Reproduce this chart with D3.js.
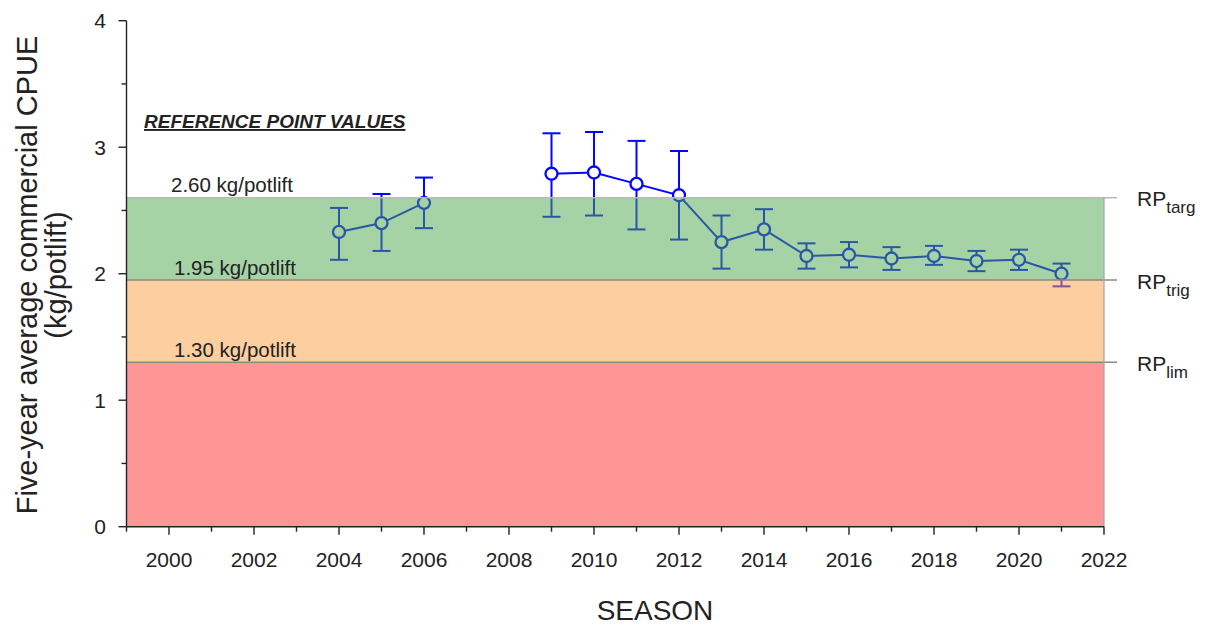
<!DOCTYPE html>
<html>
<head>
<meta charset="utf-8">
<script src="https://cdn.jsdelivr.net/npm/d3@7"></script>
<style>
  html, body { margin: 0; padding: 0; background: #fff; }
  svg { display: block; font-family: "Liberation Sans", Arial, sans-serif; }
</style>
</head>
<body>
<svg id="chart" width="1221" height="628"></svg>
<script>
// Five-year average commercial CPUE by season, with 95% error bars
const seasons = [2004, 2005, 2006, 2009, 2010, 2011, 2012, 2013, 2014, 2015, 2016, 2017, 2018, 2019, 2020, 2021];
const cpue    = [2.33, 2.40, 2.56, 2.79, 2.80, 2.71, 2.62, 2.25, 2.35, 2.14, 2.15, 2.12, 2.14, 2.10, 2.11, 2.00];
const lower   = [2.11, 2.18, 2.36, 2.45, 2.46, 2.35, 2.27, 2.04, 2.19, 2.04, 2.05, 2.03, 2.07, 2.02, 2.03, 1.90];
const upper   = [2.52, 2.63, 2.76, 3.11, 3.12, 3.05, 2.97, 2.46, 2.51, 2.24, 2.25, 2.21, 2.22, 2.18, 2.19, 2.08];

// Reference points (kg/potlift)
const rpKeys   = ["targ", "trig", "lim"];
const rpValues = [2.60, 1.95, 1.30];
const rpText   = ["2.60 kg/potlift", "1.95 kg/potlift", "1.30 kg/potlift"];

// Zones between reference points
const zoneLow   = [1.95, 1.30, 0];
const zoneHigh  = [2.60, 1.95, 1.30];
const zoneFill  = ["rgb(77,167,75)", "rgb(251,159,65)", "rgb(255,45,45)"];

const xTicks = d3.range(2000, 2023, 2);
const xMinor = d3.range(1999, 2023, 1);
const yTicks = [0, 1, 2, 3, 4];
const yMinor = d3.range(0, 4.01, 0.5);

const svg = d3.select("#chart");
const plotL = 126.5, plotR = 1104, plotT = 20.7, plotB = 526.7;

const x = d3.scaleLinear().domain([1999, 2022]).range([plotL, plotR]);
const y = d3.scaleLinear().domain([0, 4]).range([plotB, plotT]);

const blue = "#0505ff";
const pts = seasons.map((s, i) => ({ s, v: cpue[i], lo: lower[i], hi: upper[i] }));

// Series: connecting line, broken where seasons are missing
const segs = [];
pts.forEach((p, i) => {
  if (i === 0 || p.s - pts[i - 1].s > 1) segs.push([]);
  segs[segs.length - 1].push(p);
});
const line = d3.line().x(d => x(d.s)).y(d => y(d.v));
svg.append("g").selectAll("path").data(segs).join("path")
  .attr("d", line).attr("fill", "none").attr("stroke", blue).attr("stroke-width", 2);

// Error bars
const eb = svg.append("g").attr("stroke", blue).attr("stroke-width", 2);
eb.selectAll("line.v").data(pts).join("line").attr("class", "v")
  .attr("x1", d => x(d.s)).attr("x2", d => x(d.s))
  .attr("y1", d => y(d.lo)).attr("y2", d => y(d.hi));
eb.selectAll("line.hc").data(pts).join("line").attr("class", "hc")
  .attr("x1", d => x(d.s) - 9).attr("x2", d => x(d.s) + 9)
  .attr("y1", d => y(d.hi)).attr("y2", d => y(d.hi));
eb.selectAll("line.lc").data(pts).join("line").attr("class", "lc")
  .attr("x1", d => x(d.s) - 9).attr("x2", d => x(d.s) + 9)
  .attr("y1", d => y(d.lo)).attr("y2", d => y(d.lo));

// Markers
svg.append("g").selectAll("circle").data(pts).join("circle")
  .attr("cx", d => x(d.s)).attr("cy", d => y(d.v)).attr("r", 6)
  .attr("fill", "#fff").attr("stroke", blue).attr("stroke-width", 2.3);

// Translucent zones laid over the series
svg.append("g").selectAll("rect").data(zoneLow).join("rect")
  .attr("x", plotL).attr("width", plotR - plotL)
  .attr("y", (d, i) => y(zoneHigh[i]))
  .attr("height", (d, i) => y(zoneLow[i]) - y(zoneHigh[i]))
  .attr("fill", (d, i) => zoneFill[i]).attr("fill-opacity", 0.5);

// Reference point lines, right-hand ticks and frame edge
const rpg = svg.append("g");
rpg.selectAll("line.rp").data(rpValues).join("line").attr("class", "rp")
  .attr("x1", plotL).attr("x2", plotR + 13)
  .attr("y1", d => y(d)).attr("y2", d => y(d))
  .attr("stroke", (d, i) => i === 0 ? "#b9b9b9" : "#8a8a80").attr("stroke-width", 1.5);
rpg.append("line")
  .attr("x1", plotR).attr("x2", plotR)
  .attr("y1", y(rpValues[0])).attr("y2", plotB)
  .attr("stroke", "#a8a8a8").attr("stroke-width", 1.3);

// Reference point value labels
svg.append("text").attr("x", 144).attr("y", 128)
  .attr("font-size", 19).attr("font-weight", "bold").attr("font-style", "italic")
  .attr("text-decoration", "underline").attr("fill", "#222")
  .text("REFERENCE POINT VALUES");
svg.append("g").selectAll("text").data(rpValues).join("text")
  .attr("x", (d, i) => i === 0 ? 171 : 174)
  .attr("y", d => y(d) - 5.5)
  .attr("font-size", 20.5).attr("fill", "#222")
  .text((d, i) => rpText[i]);

// RP labels with subscripts
const rpl = svg.append("g").selectAll("text").data(rpValues).join("text")
  .attr("x", 1137).attr("y", d => y(d) + 8.5)
  .attr("font-size", 21).attr("fill", "#222");
rpl.append("tspan").text("RP");
rpl.append("tspan").attr("font-size", 17).attr("dy", 7).text((d, i) => rpKeys[i]);

// Axes
const axisColor = "#222";
const ax = svg.append("g").attr("stroke", axisColor).attr("stroke-width", 1.4);
ax.append("line").attr("x1", plotL).attr("x2", plotL).attr("y1", plotT).attr("y2", plotB);
ax.append("line").attr("x1", plotL).attr("x2", plotR).attr("y1", plotB).attr("y2", plotB);
ax.selectAll("line.ym").data(yMinor).join("line").attr("class", "ym")
  .attr("x1", d => Number.isInteger(d) ? plotL - 8 : plotL - 5).attr("x2", plotL)
  .attr("y1", d => y(d)).attr("y2", d => y(d));
ax.selectAll("line.xm").data(xMinor).join("line").attr("class", "xm")
  .attr("x1", d => x(d)).attr("x2", d => x(d))
  .attr("y1", plotB).attr("y2", d => d % 2 === 0 ? plotB + 8 : plotB + 5);

svg.append("g").selectAll("text").data(yTicks).join("text")
  .attr("x", 106).attr("y", d => y(d)).attr("dy", "0.36em")
  .attr("text-anchor", "end").attr("font-size", 21).attr("fill", axisColor)
  .text(d => d);
svg.append("g").selectAll("text").data(xTicks).join("text")
  .attr("x", d => x(d)).attr("y", 567)
  .attr("text-anchor", "middle").attr("font-size", 21).attr("fill", axisColor)
  .text(d => d);

// Axis titles
svg.append("text").attr("x", 655).attr("y", 620).attr("text-anchor", "middle")
  .attr("font-size", 28).attr("fill", axisColor).text("SEASON");
const yt = svg.append("text").attr("transform", "translate(37,275) rotate(-90)")
  .attr("text-anchor", "middle").attr("font-size", 29).attr("fill", axisColor);
yt.append("tspan").attr("x", 0).attr("y", 0).text("Five-year average commercial CPUE");
yt.append("tspan").attr("x", 0).attr("y", 29).text("(kg/potlift)");
</script>
</body>
</html>
